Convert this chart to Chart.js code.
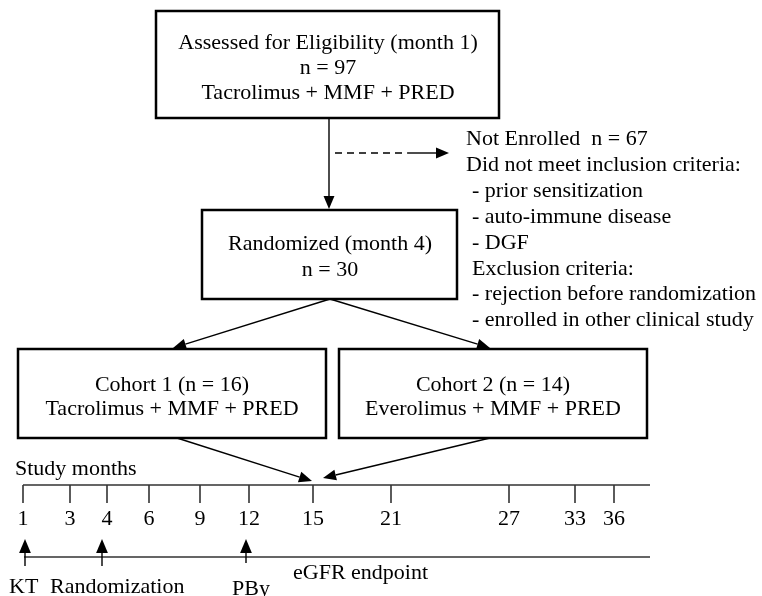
<!DOCTYPE html>
<html>
<head>
<meta charset="utf-8">
<script src="https://cdn.jsdelivr.net/npm/chart.js@4/dist/chart.umd.min.js"></script>
<style>
  body { margin: 0; background: #fff; }
  canvas { display: block; }
</style>
</head>
<body>
<canvas id="flowChart" width="762" height="596"></canvas>
<script>
// Study data
let nAssessed = 97;
let nNotEnrolled = 67;
let nRandomized = 30;
let assessedMonth = 1;
let randomizedMonth = 4;
let cohortNames = ["Cohort 1", "Cohort 2"];
let cohortN = [16, 14];
let cohortRegimens = ["Tacrolimus + MMF + PRED", "Everolimus + MMF + PRED"];
let baseRegimen = "Tacrolimus + MMF + PRED";
let inclusionMisses = ["prior sensitization", "auto-immune disease", "DGF"];
let exclusionReasons = ["rejection before randomization", "enrolled in other clinical study"];

// Time line
let studyMonths = [1, 3, 4, 6, 9, 12, 15, 21, 27, 33, 36];
let milestoneLabels = ["KT", "Randomization", "PBy"];
let milestoneMonths = [1, 4, 12];
let endpointLabel = "eGFR endpoint";

// Layout (canvas units) - the time line is not drawn to scale
let monthX = [23, 70, 107, 149, 200, 249, 313, 391, 509, 575, 614];
let milestoneShift = [2, -5, -3];
let milestoneLabelX = [9, 50, 232];

const FONT = '22px "Liberation Serif", "Times New Roman", serif';

// Draw boxes, arrows and text on top of the chart
const flowPlugin = {
    id: 'flow',
    afterDatasetsDraw(chart) {
        const ctx = chart.ctx;
        const sx = v => chart.scales.x.getPixelForValue(v);
        const sy = v => chart.scales.y.getPixelForValue(v);

        function box(x1, y1, x2, y2) {
            ctx.lineWidth = 2.5;
            ctx.strokeStyle = '#000';
            ctx.strokeRect(sx(x1), sy(y1), sx(x2) - sx(x1), sy(y2) - sy(y1));
        }
        function text(str, x, y, align) {
            ctx.font = FONT;
            ctx.fillStyle = '#000';
            ctx.textAlign = align || 'center';
            ctx.textBaseline = 'alphabetic';
            ctx.fillText(str, sx(x), sy(y));
        }
        function arrow(x1, y1, x2, y2, dash, head) {
            head = head || 13;
            const ax = sx(x1), ay = sy(y1), bx = sx(x2), by = sy(y2);
            const ang = Math.atan2(by - ay, bx - ax);
            const hx = bx - head * Math.cos(ang), hy = by - head * Math.sin(ang);
            ctx.strokeStyle = '#000';
            ctx.lineWidth = 1.4;
            ctx.beginPath();
            if (dash) {
                ctx.setLineDash(dash);
                ctx.moveTo(ax, ay);
                ctx.lineTo(ax + (hx - ax) * 0.72, ay + (hy - ay) * 0.72);
                ctx.stroke();
                ctx.setLineDash([]);
                ctx.beginPath();
                ctx.moveTo(ax + (hx - ax) * 0.72, ay + (hy - ay) * 0.72);
            } else {
                ctx.moveTo(ax, ay);
            }
            ctx.lineTo(hx, hy);
            ctx.stroke();
            const w = head * 0.42;
            ctx.fillStyle = '#000';
            ctx.beginPath();
            ctx.moveTo(bx, by);
            ctx.lineTo(hx + w * Math.sin(ang), hy - w * Math.cos(ang));
            ctx.lineTo(hx - w * Math.sin(ang), hy + w * Math.cos(ang));
            ctx.closePath();
            ctx.fill();
        }

        ctx.save();

        // Assessed box
        box(156, 11, 499, 118);
        text(`Assessed for Eligibility (month ${assessedMonth})`, 328, 49);
        text(`n = ${nAssessed}`, 328, 74);
        text(baseRegimen, 328, 99);

        arrow(329, 118, 329, 209);
        arrow(335, 153, 449, 153, [7, 5]);

        // Not enrolled list
        const lines = [
            { s: `Not Enrolled  n = ${nNotEnrolled}`, x: 466 },
            { s: 'Did not meet inclusion criteria:', x: 466 }
        ];
        inclusionMisses.forEach(r => lines.push({ s: '- ' + r, x: 472 }));
        lines.push({ s: 'Exclusion criteria:', x: 472 });
        exclusionReasons.forEach(r => lines.push({ s: '- ' + r, x: 472 }));
        lines.forEach((l, i) => text(l.s, l.x, 145 + i * 25.9, 'left'));

        // Randomized box
        box(202, 210, 457, 299);
        text(`Randomized (month ${randomizedMonth})`, 330, 250);
        text(`n = ${nRandomized}`, 330, 276);

        arrow(330, 299, 173, 348);
        arrow(330, 299, 490, 348);

        // Cohort boxes
        const cohortBox = [[18, 326], [339, 647]];
        cohortBox.forEach((b, i) => {
            box(b[0], 349, b[1], 438);
            const cx = (b[0] + b[1]) / 2;
            text(`${cohortNames[i]} (n = ${cohortN[i]})`, cx, 391);
            text(cohortRegimens[i], cx, 415);
        });

        arrow(177, 438, 312, 481);
        arrow(490, 438, 323, 478);

        // Time line
        text('Study months', 15, 475, 'left');
        ctx.strokeStyle = '#333';
        ctx.lineWidth = 1.6;
        ctx.beginPath();
        ctx.moveTo(sx(23), sy(485));
        ctx.lineTo(sx(650), sy(485));
        ctx.moveTo(sx(24), sy(557));
        ctx.lineTo(sx(650), sy(557));
        ctx.stroke();

        studyMonths.forEach((m, i) => text(String(m), monthX[i], 525));

        milestoneMonths.forEach((m, i) => {
            const x = monthX[studyMonths.indexOf(m)] + milestoneShift[i];
            arrow(x, i === 2 ? 563 : 566, x, 539, null, 14);
            text(milestoneLabels[i], milestoneLabelX[i], i === 2 ? 595 : 593, 'left');
        });
        text(endpointLabel, 293, 579, 'left');

        ctx.restore();
    }
};

let ctx = document.getElementById('flowChart').getContext('2d');
new Chart(ctx, {
    type: 'scatter',
    data: {
        datasets: [{
            label: 'Study months',
            data: studyMonths.map((m, i) => ({ x: monthX[i], y: 494 })),
            pointStyle: 'line',
            rotation: 90,
            radius: 9,
            borderColor: '#333',
            borderWidth: 1.6
        }]
    },
    options: {
        responsive: false,
        animation: false,
        events: [],
        layout: { padding: 0, autoPadding: false },
        plugins: { legend: { display: false }, tooltip: { enabled: false } },
        scales: {
            x: { type: 'linear', min: 0, max: 762, display: false },
            y: { type: 'linear', min: 0, max: 596, reverse: true, display: false }
        }
    },
    plugins: [flowPlugin]
});
</script>
</body>
</html>
